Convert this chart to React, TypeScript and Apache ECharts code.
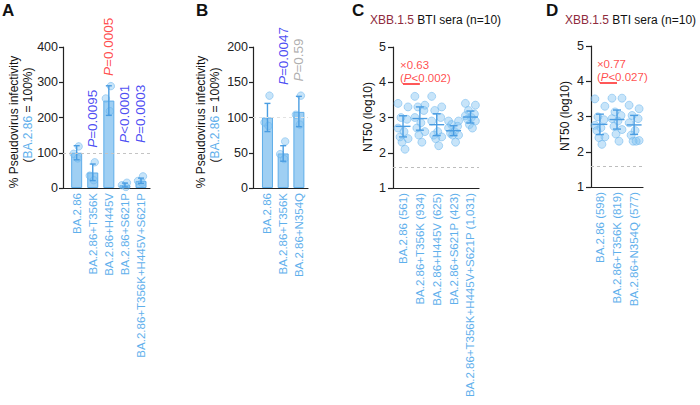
import React, { useEffect, useRef } from "react";
import * as echarts from "echarts";

// ---------- Panel A : pseudovirus infectivity ----------
const aCategories = ["BA.2.86", "BA.2.86+T356K", "BA.2.86+H445V", "BA.2.86+S621P", "BA.2.86+T356K+H445V+S621P"];
const aMeans = [100, 44, 248, 8, 20];
const aLow = [80, 21, 206, 3, 13];
const aHigh = [120, 68, 290, 14, 28];
const aDots = [[118, 97, 84], [73, 35, 22], [289, 254, 218], [15, 8, 3], [33, 20, 15]];
const aPText = ["", "=0.0095", "=0.0005", "<0.0001", "=0.0003"];
const aPValue = [NaN, 0.0095, 0.0005, 0.0001, 0.0003];
const aPAnchor = [0, 114, 318, 128, 128];

// ---------- Panel B ----------
const bCategories = ["BA.2.86", "BA.2.86+T356K", "BA.2.86+N354Q"];
const bMeans = [100, 49, 108];
const bLow = [80, 38, 87];
const bHigh = [120, 60, 130];
const bDots = [[131, 93, 88], [66, 48, 41], [131, 104, 90]];
const bPText = ["", "=0.0047", "=0.59"];
const bPValue = [NaN, 0.0047, 0.59];
const bPAnchor = [0, 146, 151];

// ---------- Panel C : XBB.1.5 BTI sera ----------
const cVariants = ["BA.2.86", "BA.2.86+T356K", "BA.2.86+H445V", "BA.2.86+S621P", "BA.2.86+T356K+H445V+S621P"];
const cGMT = [561, 934, 625, 423, 1031];
const cSD = [0.3, 0.33, 0.31, 0.14, 0.17];
const cDots = [
  [3.4, 3.3, 3.0, 2.95, 2.7, 2.6, 2.45, 2.4, 2.3, 2.1],
  [3.6, 3.35, 3.3, 3.2, 3.0, 2.85, 2.7, 2.6, 2.5, 2.3],
  [3.6, 3.3, 3.2, 3.0, 2.9, 2.6, 2.5, 2.45, 2.4, 2.2],
  [2.9, 2.9, 2.8, 2.75, 2.7, 2.6, 2.55, 2.5, 2.5, 2.3],
  [3.4, 3.35, 3.2, 3.1, 3.05, 3.0, 2.95, 2.9, 2.8, 2.7],
];
const cFold = "×0.63";
const cP = "<0.002";

// ---------- Panel D ----------
const dVariants = ["BA.2.86", "BA.2.86+T356K", "BA.2.86+N354Q"];
const dGMT = [598, 819, 577];
const dSD = [0.29, 0.27, 0.27];
const dDots = [
  [3.5, 3.29, 2.99, 2.91, 2.75, 2.68, 2.6, 2.42, 2.4, 2.21],
  [3.52, 3.52, 3.13, 3.03, 2.94, 2.87, 2.72, 2.63, 2.5, 2.3],
  [3.32, 3.22, 3.03, 2.94, 2.82, 2.6, 2.47, 2.32, 2.3, 2.3],
];
const dFold = "×0.77";
const dP = "<0.027";

const LOD = 1.6;
const seraTitle = ["XBB.1.5", "BTI sera (n=10)"];

// ---------- styles ----------
const FONT = "'Liberation Sans', Arial, Helvetica, sans-serif";
const LABEL_BLUE = "#5fb0ec";
const BAR_FILL = "#9fcff3";
const BAR_EDGE = "#5eade9";
const ERR = "#4a9de2";
const DOT_FILL = "rgba(128,194,242,0.55)";
const DOT_EDGE = "rgba(100,176,236,0.75)";
const RED = "#ff2020";
const BLUE = "#2020f0";
const GREY = "#9a9a9a";
const DARKRED = "#8e2b3d";
const AX = "#222";

const JIT3 = [2, -3, 1];
const JIT10 = [-5, 5, -2, 4, -5, 1, -3, 5, -1, 2];

const pColor = (p: number, mean: number, ref: number) =>
  isNaN(p) ? "transparent" : p >= 0.05 ? GREY : mean > ref ? RED : BLUE;

function xAxisFor(gridIndex: number, cats: string[], min: number, max: number) {
  return {
    gridIndex,
    type: "value",
    min,
    max,
    axisLine: { show: true, onZero: false, lineStyle: { color: AX, width: 1.2 } },
    axisTick: { show: false },
    splitLine: { show: false },
    axisLabel: {
      customValues: cats.map((_, i) => i + 1),
      formatter: (v: number) => cats[Math.round(v) - 1] ?? "",
      rotate: 90,
      color: LABEL_BLUE,
      fontSize: 11.5,
      fontFamily: FONT,
      margin: 5,
    },
  };
}

function yAxisFor(gridIndex: number, min: number, max: number, interval: number, tickLen: number, margin: number) {
  return {
    gridIndex,
    type: "value",
    min,
    max,
    interval,
    axisLine: { show: true, onZero: false, lineStyle: { color: AX, width: 1.2 } },
    axisTick: { show: true, length: tickLen, lineStyle: { color: AX, width: 1.2 } },
    splitLine: { show: false },
    axisLabel: { color: AX, fontSize: 12.5, fontFamily: FONT, margin },
  };
}

function errRender(capW: number, meanW: number) {
  return (_params: any, api: any) => {
    const x = api.value(0);
    const lo = api.coord([x, api.value(1)]);
    const hi = api.coord([x, api.value(2)]);
    const mid = api.coord([x, api.value(3)]);
    const style = { stroke: ERR, lineWidth: 1.4 };
    const children: any[] = [
      { type: "line", shape: { x1: lo[0], y1: lo[1], x2: hi[0], y2: hi[1] }, style },
      { type: "line", shape: { x1: lo[0] - capW / 2, y1: lo[1], x2: lo[0] + capW / 2, y2: lo[1] }, style },
      { type: "line", shape: { x1: hi[0] - capW / 2, y1: hi[1], x2: hi[0] + capW / 2, y2: hi[1] }, style },
    ];
    if (meanW > 0) {
      children.push({ type: "line", shape: { x1: mid[0] - meanW / 2, y1: mid[1], x2: mid[0] + meanW / 2, y2: mid[1] }, style });
    }
    return { type: "group", children };
  };
}

function dotSeries(idx: number, dots: number[][], jit: number[], size: number) {
  return {
    type: "scatter",
    xAxisIndex: idx,
    yAxisIndex: idx,
    symbolSize: size,
    z: 3,
    itemStyle: { color: DOT_FILL, borderColor: DOT_EDGE, borderWidth: 0.8 },
    data: dots.flatMap((arr, i) =>
      arr.map((v, j) => ({ value: [i + 1, v], symbolOffset: [jit[j % jit.length], 0] }))
    ),
  };
}

function refLine(value: number, color: string) {
  return {
    silent: true,
    symbol: "none",
    label: { show: false },
    lineStyle: { type: [3, 3], color, width: 1 },
    data: [{ yAxis: value }],
  };
}

function pLabelSeries(idx: number, texts: string[], pv: number[], means: number[], anchors: number[], fontSize: number) {
  const data: any[] = [];
  texts.forEach((t, i) => {
    if (!t) return;
    const col = pColor(pv[i], means[i], means[0]);
    data.push({
      value: [i + 1, anchors[i]],
      label: {
        formatter: "{i|P}{n|" + t + "}",
        rich: {
          i: { fontStyle: "italic", color: col, fontSize, fontFamily: FONT },
          n: { color: col, fontSize, fontFamily: FONT },
        },
      },
    });
  });
  return {
    type: "scatter",
    xAxisIndex: idx,
    yAxisIndex: idx,
    symbolSize: 1,
    itemStyle: { color: "transparent" },
    silent: true,
    z: 5,
    label: { show: true, position: "inside", rotate: 90, align: "left", verticalAlign: "middle" },
    data,
  };
}

function annotationSeries(idx: number, fold: string, p: string, level: number) {
  const fs = 11.5;
  const txt = (text: string, dy: number) => ({
    type: "scatter",
    xAxisIndex: idx,
    yAxisIndex: idx,
    symbolSize: 1,
    itemStyle: { color: "transparent" },
    silent: true,
    label: {
      show: true,
      position: "inside",
      align: "left",
      verticalAlign: "bottom",
      offset: [-3, dy],
      formatter: text,
      rich: {
        r: { color: RED, fontSize: fs, fontFamily: FONT },
        i: { color: RED, fontSize: fs, fontFamily: FONT, fontStyle: "italic" },
      },
    },
    data: [[1, level]],
  });
  return [
    {
      type: "line",
      xAxisIndex: idx,
      yAxisIndex: idx,
      symbol: "none",
      silent: true,
      lineStyle: { color: RED, width: 1.5 },
      data: [[1, level], [2, level]],
    },
    txt("{r|" + fold + "}", -13),
    txt("{r|(}{i|P}{r|" + p + ")}", 0),
  ];
}

function buildOption() {
  const cMeans = cGMT.map((g) => Math.log10(g));
  const dMeans = dGMT.map((g) => Math.log10(g));
  const cLabels = cVariants.map((v, i) => `${v} (${cGMT[i].toLocaleString("en-US")})`);
  const dLabels = dVariants.map((v, i) => `${v} (${dGMT[i].toLocaleString("en-US")})`);

  const grids = [
    { left: 63, top: 47, width: 87, height: 141 },
    { left: 253, top: 47, width: 55, height: 141 },
    { left: 393, top: 47, width: 86, height: 141 },
    { left: 591, top: 46, width: 52, height: 141 },
  ];

  const xAxis = [
    xAxisFor(0, aCategories, 0.15, 5.56),
    xAxisFor(1, bCategories, 0.08, 3.58),
    xAxisFor(2, cLabels, 0.405, 5.51),
    xAxisFor(3, dLabels, 0.48, 3.52),
  ];
  const yAxis = [
    yAxisFor(0, 0, 400, 100, 4, 5),
    yAxisFor(1, 0, 200, 50, 4, 5),
    yAxisFor(2, 1, 5, 1, 5, 7),
    yAxisFor(3, 1, 5, 1, 5, 7),
  ];

  const series: any[] = [
    // A
    {
      type: "bar",
      xAxisIndex: 0,
      yAxisIndex: 0,
      barWidth: 11,
      itemStyle: { color: BAR_FILL, borderColor: BAR_EDGE, borderWidth: 1 },
      data: aMeans.map((m, i) => [i + 1, m]),
      markLine: refLine(100, "#c4c4c4"),
    },
    dotSeries(0, aDots, JIT3, 7.5),
    {
      type: "custom",
      xAxisIndex: 0,
      yAxisIndex: 0,
      z: 4,
      renderItem: errRender(6, 0),
      data: aMeans.map((m, i) => [i + 1, aLow[i], aHigh[i], m]),
    },
    pLabelSeries(0, aPText, aPValue, aMeans, aPAnchor, 13.5),
    // B
    {
      type: "bar",
      xAxisIndex: 1,
      yAxisIndex: 1,
      barWidth: 11,
      itemStyle: { color: BAR_FILL, borderColor: BAR_EDGE, borderWidth: 1 },
      data: bMeans.map((m, i) => [i + 1, m]),
      markLine: refLine(100, "#e2e2e2"),
    },
    dotSeries(1, bDots, JIT3, 7.5),
    {
      type: "custom",
      xAxisIndex: 1,
      yAxisIndex: 1,
      z: 4,
      renderItem: errRender(6, 0),
      data: bMeans.map((m, i) => [i + 1, bLow[i], bHigh[i], m]),
    },
    pLabelSeries(1, bPText, bPValue, bMeans, bPAnchor, 13.5),
    // C
    {
      ...dotSeries(2, cDots, JIT10, 8),
      markLine: refLine(LOD, "#bdbdbd"),
    },
    {
      type: "custom",
      xAxisIndex: 2,
      yAxisIndex: 2,
      z: 4,
      renderItem: errRender(8, 15),
      data: cMeans.map((m, i) => [i + 1, m - cSD[i], m + cSD[i], m]),
    },
    ...annotationSeries(2, cFold, cP, 3.95),
    // D
    {
      ...dotSeries(3, dDots, JIT10, 8),
      markLine: refLine(LOD, "#bdbdbd"),
    },
    {
      type: "custom",
      xAxisIndex: 3,
      yAxisIndex: 3,
      z: 4,
      renderItem: errRender(8, 15),
      data: dMeans.map((m, i) => [i + 1, m - dSD[i], m + dSD[i], m]),
    },
    ...annotationSeries(3, dFold, dP, 3.95),
  ];

  const letter = (t: string, x: number) => ({
    type: "text",
    x,
    y: 2,
    style: { text: t, fill: "#111", fontSize: 17, fontWeight: "bold", fontFamily: FONT, align: "left", verticalAlign: "top" },
  });
  const title = (x: number) => ({
    type: "text",
    x,
    y: 20,
    style: {
      text: `{r|${seraTitle[0]}} {k|${seraTitle[1]}}`,
      align: "left",
      verticalAlign: "middle",
      fontSize: 12,
      fontFamily: FONT,
      rich: {
        r: { fill: DARKRED, color: DARKRED, fontSize: 12, fontFamily: FONT },
        k: { fill: "#111", color: "#111", fontSize: 12, fontFamily: FONT },
      },
    },
  });
  const vText = (x: number, y: number, text: string, rich?: any) => ({
    type: "text",
    x,
    y,
    rotation: Math.PI / 2,
    style: { text, fill: "#111", fontSize: 12, fontFamily: FONT, align: "center", verticalAlign: "middle", rich },
  });
  const pctRich = {
    k: { fill: "#111", color: "#111", fontSize: 12, fontFamily: FONT },
    b: { fill: LABEL_BLUE, color: LABEL_BLUE, fontSize: 12, fontFamily: FONT },
  };

  const graphic = [
    letter("A", 2),
    letter("B", 196),
    letter("C", 352),
    letter("D", 546),
    title(370),
    title(565),
    vText(14, 122, "% Pseudovirus infectivity"),
    vText(28, 115, "{k|(}{b|BA.2.86}{k| = 100%)}", pctRich),
    vText(201, 122, "% Pseudovirus infectivity"),
    vText(215, 115, "{k|(}{b|BA.2.86}{k| = 100%)}", pctRich),
    vText(368, 117, "NT50 (log10)"),
    vText(565, 116, "NT50 (log10)"),
  ];

  return {
    animation: false,
    backgroundColor: "#ffffff",
    textStyle: { fontFamily: FONT },
    grid: grids,
    xAxis,
    yAxis,
    series,
    graphic,
  };
}

export default function App() {
  const ref = useRef<HTMLDivElement>(null);
  useEffect(() => {
    if (!ref.current) return;
    const chart = echarts.init(ref.current, undefined, { renderer: "svg" });
    chart.setOption(buildOption() as any);
    return () => chart.dispose();
  }, []);
  return <div ref={ref} style={{ position: "absolute", left: 0, top: 0, width: 700, height: 405, background: "#fff" }} />;
}
